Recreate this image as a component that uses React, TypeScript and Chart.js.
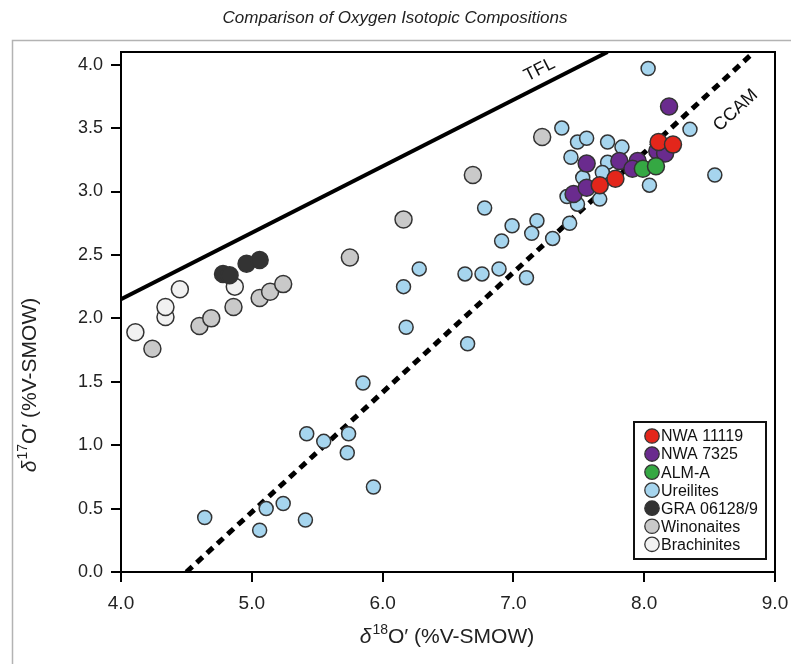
import React, { useEffect, useRef } from "react";
import { Chart, registerables } from "chart.js";

Chart.register(...registerables);

type P = { x: number; y: number };

const FONT = '"Liberation Sans", Arial, Helvetica, sans-serif';

const chartTitle = "Comparison of Oxygen Isotopic Compositions";
const xTitleParts = ["δ", "18", "O′ (%V-SMOW)"];
const yTitleParts = ["δ", "17", "O′ (%V-SMOW)"];

const xTicks = [4, 5, 6, 7, 8, 9];
const yTicks = [0, 0.5, 1, 1.5, 2, 2.5, 3, 3.5, 4];

const nwa11119: P[] = [
  { x: 7.66, y: 3.05 }, { x: 7.78, y: 3.1 }, { x: 8.11, y: 3.39 }, { x: 8.22, y: 3.37 },
];
const nwa7325: P[] = [
  { x: 8.19, y: 3.67 }, { x: 7.56, y: 3.22 }, { x: 7.81, y: 3.24 }, { x: 7.95, y: 3.24 },
  { x: 7.91, y: 3.18 }, { x: 7.46, y: 2.98 }, { x: 7.56, y: 3.03 }, { x: 8.1, y: 3.32 },
  { x: 8.16, y: 3.3 },
];
const almA: P[] = [{ x: 7.99, y: 3.18 }, { x: 8.09, y: 3.2 }];
const ureilites: P[] = [
  { x: 8.03, y: 3.97 }, { x: 7.37, y: 3.5 }, { x: 7.49, y: 3.39 }, { x: 7.56, y: 3.42 },
  { x: 7.72, y: 3.39 }, { x: 7.83, y: 3.35 }, { x: 7.44, y: 3.27 }, { x: 7.72, y: 3.23 },
  { x: 7.53, y: 3.11 }, { x: 7.68, y: 3.15 }, { x: 7.41, y: 2.96 }, { x: 7.49, y: 2.9 },
  { x: 7.66, y: 2.94 }, { x: 8.04, y: 3.05 }, { x: 8.35, y: 3.49 }, { x: 8.54, y: 3.13 },
  { x: 7.43, y: 2.75 }, { x: 7.3, y: 2.63 }, { x: 7.18, y: 2.77 }, { x: 7.14, y: 2.67 },
  { x: 6.99, y: 2.73 }, { x: 6.91, y: 2.61 }, { x: 6.78, y: 2.87 }, { x: 6.28, y: 2.39 },
  { x: 6.16, y: 2.25 }, { x: 6.63, y: 2.35 }, { x: 6.76, y: 2.35 }, { x: 6.89, y: 2.39 },
  { x: 7.1, y: 2.32 }, { x: 6.18, y: 1.93 }, { x: 6.65, y: 1.8 }, { x: 5.85, y: 1.49 },
  { x: 5.42, y: 1.09 }, { x: 5.55, y: 1.03 }, { x: 5.74, y: 1.09 }, { x: 5.73, y: 0.94 },
  { x: 5.93, y: 0.67 }, { x: 4.64, y: 0.43 }, { x: 5.11, y: 0.5 }, { x: 5.24, y: 0.54 },
  { x: 5.06, y: 0.33 }, { x: 5.41, y: 0.41 },
];
const gra06128: P[] = [
  { x: 4.78, y: 2.35 }, { x: 4.83, y: 2.34 }, { x: 4.96, y: 2.43 }, { x: 5.06, y: 2.46 },
];
const winonaites: P[] = [
  { x: 4.24, y: 1.76 }, { x: 4.6, y: 1.94 }, { x: 4.69, y: 2.0 }, { x: 4.86, y: 2.09 },
  { x: 5.06, y: 2.16 }, { x: 5.14, y: 2.21 }, { x: 5.24, y: 2.27 }, { x: 5.75, y: 2.48 },
  { x: 6.16, y: 2.78 }, { x: 6.69, y: 3.13 }, { x: 7.22, y: 3.43 },
];
const brachinites: P[] = [
  { x: 4.11, y: 1.89 }, { x: 4.34, y: 2.01 }, { x: 4.34, y: 2.09 }, { x: 4.45, y: 2.23 },
  { x: 4.87, y: 2.25 },
];

const tflLine: P[] = [{ x: 4.0, y: 2.15 }, { x: 7.72, y: 4.1 }];
const ccamLine: P[] = [{ x: 4.5, y: 0.0 }, { x: 8.84, y: 4.1 }];
const lineLabels = [
  { text: "TFL", at: { x: 7.2, y: 3.96 }, line: tflLine },
  { text: "CCAM", at: { x: 8.7, y: 3.64 }, line: ccamLine },
];

const seriesNames = ["NWA 11119", "NWA 7325", "ALM-A", "Ureilites", "GRA 06128/9", "Winonaites", "Brachinites"];
const seriesData = [nwa11119, nwa7325, almA, ureilites, gra06128, winonaites, brachinites];
const seriesColors = ["#e3261b", "#6a2b8e", "#35a843", "#a6d5ee", "#333333", "#c9c9c9", "#f1f1f1"];
const seriesRadius = [8.5, 8.5, 8.5, 7, 8.5, 8.5, 8.5];

function drawSup(ctx: CanvasRenderingContext2D, parts: string[], size: number) {
  const f1 = `italic ${size}px ${FONT}`;
  const f2 = `${Math.round(size * 0.66)}px ${FONT}`;
  const f3 = `${size}px ${FONT}`;
  ctx.font = f1; const w1 = ctx.measureText(parts[0]).width;
  ctx.font = f2; const w2 = ctx.measureText(parts[1]).width;
  ctx.font = f3; const w3 = ctx.measureText(parts[2]).width;
  const total = w1 + w2 + w3 + 1;
  let x = -total / 2;
  ctx.textBaseline = "middle";
  ctx.textAlign = "left";
  ctx.font = f1; ctx.fillText(parts[0], x, 0); x += w1 + 1;
  ctx.font = f2; ctx.fillText(parts[1], x, -size * 0.33); x += w2;
  ctx.font = f3; ctx.fillText(parts[2], x, 0);
}

const decor = {
  id: "decor",
  beforeDraw(chart: any) {
    const ctx = chart.ctx as CanvasRenderingContext2D;
    ctx.save();
    ctx.fillStyle = "#fff";
    ctx.fillRect(0, 0, chart.width, chart.height);
    ctx.strokeStyle = "#b3b3b3";
    ctx.lineWidth = 1.5;
    ctx.strokeRect(12.5, 40.5, 1000, 1000);
    ctx.restore();
  },
  afterDraw(chart: any) {
    const ctx = chart.ctx as CanvasRenderingContext2D;
    const ca = chart.chartArea;
    const xs = chart.scales.x;
    const ys = chart.scales.y;
    ctx.save();
    // frame
    ctx.strokeStyle = "#000";
    ctx.lineWidth = 2;
    ctx.strokeRect(ca.left, ca.top, ca.right - ca.left, ca.bottom - ca.top);

    // title
    ctx.fillStyle = "#222";
    ctx.font = `italic 17px ${FONT}`;
    ctx.textAlign = "center";
    ctx.textBaseline = "middle";
    ctx.fillText(chartTitle, 395, 18);

    // line labels
    ctx.font = `18px ${FONT}`;
    ctx.fillStyle = "#111";
    for (const l of lineLabels) {
      const x1 = xs.getPixelForValue(l.line[0].x), y1 = ys.getPixelForValue(l.line[0].y);
      const x2 = xs.getPixelForValue(l.line[1].x), y2 = ys.getPixelForValue(l.line[1].y);
      const ang = Math.atan2(y2 - y1, x2 - x1);
      ctx.save();
      ctx.translate(xs.getPixelForValue(l.at.x), ys.getPixelForValue(l.at.y));
      ctx.rotate(ang);
      ctx.textAlign = "center";
      ctx.textBaseline = "middle";
      ctx.fillText(l.text, 0, 0);
      ctx.restore();
    }

    // axis titles
    ctx.fillStyle = "#222";
    ctx.save();
    ctx.translate(447, 637);
    drawSup(ctx, xTitleParts, 21);
    ctx.restore();
    ctx.save();
    ctx.translate(30, 385);
    ctx.rotate(-Math.PI / 2);
    drawSup(ctx, yTitleParts, 21);
    ctx.restore();

    // legend
    const lx = 634, ly = 422, lw = 132, lh = 137;
    ctx.fillStyle = "#fff";
    ctx.fillRect(lx, ly, lw, lh);
    ctx.strokeStyle = "#111";
    ctx.lineWidth = 2;
    ctx.strokeRect(lx, ly, lw, lh);
    seriesNames.forEach((name, i) => {
      const cy = 436 + i * 18.05;
      ctx.beginPath();
      ctx.arc(652, cy, 7.2, 0, Math.PI * 2);
      ctx.fillStyle = seriesColors[i];
      ctx.fill();
      ctx.strokeStyle = "#333";
      ctx.lineWidth = 1.3;
      ctx.stroke();
      ctx.fillStyle = "#111";
      ctx.font = `16px ${FONT}`;
      ctx.textAlign = "left";
      ctx.textBaseline = "middle";
      ctx.fillText(name, 661, cy + 1);
    });
    ctx.restore();
  },
};

export default function App() {
  const ref = useRef<HTMLCanvasElement>(null);
  useEffect(() => {
    if (!ref.current) return;
    const datasets: any[] = seriesNames.map((name, i) => ({
      type: "scatter",
      label: name,
      data: seriesData[i],
      backgroundColor: seriesColors[i],
      borderColor: "#333",
      borderWidth: 1.5,
      pointRadius: seriesRadius[i],
      pointHoverRadius: seriesRadius[i],
      order: [0, 2, 1, 3, 4, 5, 6][i],
    }));
    datasets.push({
      type: "line",
      label: "TFL",
      data: tflLine,
      borderColor: "#000",
      borderWidth: 4,
      pointRadius: 0,
      fill: false,
      order: 10,
    });
    datasets.push({
      type: "line",
      label: "CCAM",
      data: ccamLine,
      borderColor: "#000",
      borderWidth: 5,
      borderDash: [8, 6],
      borderCapStyle: "butt",
      pointRadius: 0,
      fill: false,
      order: 11,
    });
    const chart = new Chart(ref.current, {
      type: "scatter",
      data: { datasets },
      plugins: [decor],
      options: {
        animation: false,
        responsive: true,
        maintainAspectRatio: false,
        layout: { padding: { top: 52, right: 16, left: 0, bottom: 0 } },
        plugins: { legend: { display: false }, tooltip: { enabled: false }, title: { display: false } },
        scales: {
          x: {
            type: "linear",
            min: 4,
            max: 9,
            afterBuildTicks: (s: any) => { s.ticks = xTicks.map((v) => ({ value: v })); },
            afterFit: (s: any) => { s.height = 92; s.paddingLeft = 0; s.paddingRight = 0; },
            ticks: {
              callback: (v: any) => Number(v).toFixed(1),
              font: { size: 19, family: FONT },
              color: "#222",
              padding: 10,
              maxRotation: 0,
            },
            grid: { display: true, drawOnChartArea: false, drawTicks: true, tickLength: 10, color: "#000", lineWidth: 2 },
            border: { display: true, color: "#000", width: 2 },
          },
          y: {
            type: "linear",
            min: 0,
            max: 4.1,
            afterBuildTicks: (s: any) => { s.ticks = yTicks.map((v) => ({ value: v })); },
            afterFit: (s: any) => { s.width = 121; s.paddingTop = 0; s.paddingBottom = 0; },
            ticks: {
              callback: (v: any) => Number(v).toFixed(1),
              font: { size: 18, family: FONT },
              color: "#222",
              padding: 8,
            },
            grid: { display: true, drawOnChartArea: false, drawTicks: true, tickLength: 10, color: "#000", lineWidth: 2 },
            border: { display: true, color: "#000", width: 2 },
          },
        },
      },
    });
    return () => chart.destroy();
  }, []);
  return (
    <div style={{ position: "absolute", left: 0, top: 0, width: 791, height: 664 }}>
      <canvas ref={ref} />
    </div>
  );
}
